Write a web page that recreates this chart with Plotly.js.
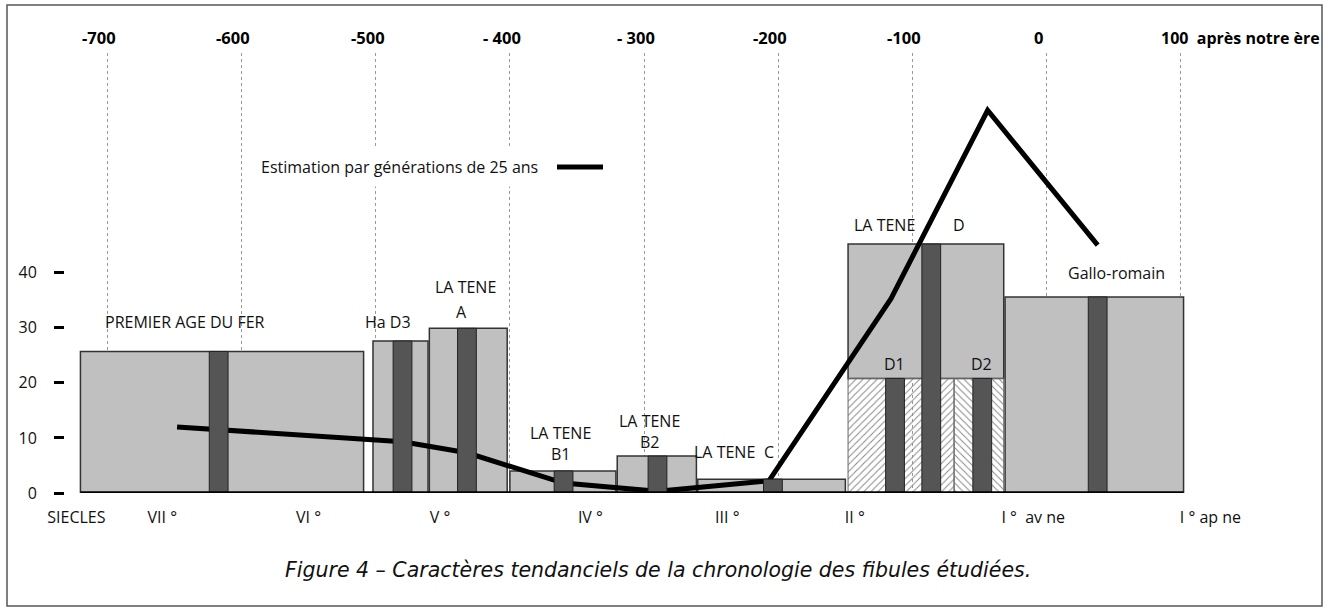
<!DOCTYPE html>
<html><head><meta charset="utf-8">
<script src="https://cdn.plot.ly/plotly-3.0.1.min.js"></script>
<style>html,body{margin:0;padding:0;background:#fff;} #chart{width:1334px;height:610px;}</style>
</head><body><div id="chart"></div>
<script>
// ---------- DATA (years: negative = before our era) ----------
const periodNames = ['PREMIER AGE DU FER','Ha D3','LA TENE A','LA TENE B1','LA TENE B2','LA TENE C','LA TENE D','Gallo-romain'];
const periodStart = [-720, -502, -460, -400, -320, -260, -148, -31];
const periodEnd   = [-509, -461, -402, -321, -261, -150, -32, 102];
const periodValue = [25.7, 27.6, 29.9, 4.0, 6.7, 2.5, 45.2, 35.6];
const periodPeak  = [-617, -480, -432, -360, -290, -204, -86, 38];

const subNames = ['D1','D2'];
const subStart = [-148, -69];
const subEnd   = [-69, -32];
const subValue = [20.8, 20.8];
const subPeak  = [-113, -48];

const estName   = 'Estimation par générations de 25 ans';
const estYears  = [-648, -480, -432, -360, -290, -207, -116, -44, 38];
const estValues = [12.0, 9.3, 7.3, 1.8, 0.3, 2.2, 35.3, 69.5, 45.0];

const topTickVals = [-700, -600, -500, -400, -300, -200, -100, 0, 100];
const topTickText = ['-700', '-600', '-500', '- 400', '- 300', '-200', '-100', '0', '100  après notre ère'];

const centuryPos  = [-723, -659, -550, -452, -340, -238, -143, -10, 122];
const centuryText = ['SIECLES', 'VII °', 'VI °', 'V °', 'IV °', 'III °', 'II °', 'I °  av ne', 'I ° ap ne'];

const yTicks = [0, 10, 20, 30, 40];

// ---------- LAYOUT GEOMETRY ----------
const W = 1334, H = 610;
const M = {l: 65, r: 100, t: 53, b: 117};
const PW = W - M.l - M.r, PH = H - M.t - M.b;
const PX_PER_YEAR = 1.342;
const XR = [-731.5, -731.5 + PW / PX_PER_YEAR];
const YR = [0, 79.9];
const px2x = px => (px - M.l) / PW;
const py2y = py => (M.t + PH - py) / PH;

const FONT = 'Open Sans, sans-serif';
const LIGHT = '#c0c0c0', DARK = '#555555';
const darkWidth = 14;

// bases: the part of a period covered by sub-phases is drawn hatched
const periodBase = periodStart.map((s, i) => {
  let b = 0;
  subStart.forEach((ss, j) => { if (ss >= s && subEnd[j] <= periodEnd[i]) b = Math.max(b, subValue[j]); });
  return b;
});

const lightBars = {
  type: 'bar', xaxis: 'x', yaxis: 'y',
  x: periodStart.map((s, i) => (s + periodEnd[i]) / 2),
  width: periodStart.map((s, i) => periodEnd[i] - s),
  base: periodBase,
  y: periodValue.map((v, i) => v - periodBase[i]),
  text: periodNames, textposition: 'none',
  marker: {color: LIGHT, line: {color: '#333', width: 1.5}},
  hoverinfo: 'skip'
};

const hatchBars = {
  type: 'bar', xaxis: 'x', yaxis: 'y',
  x: subStart.map((s, i) => (s + subEnd[i]) / 2),
  width: subStart.map((s, i) => subEnd[i] - s),
  y: subValue,
  text: subNames, textposition: 'none',
  marker: {
    color: 'rgba(255,255,255,0)',
    line: {color: '#666', width: 1},
    pattern: {shape: ['/', '\\'], fgcolor: '#888', bgcolor: 'rgba(255,255,255,0)', size: 5, solidity: 0.2}
  },
  hoverinfo: 'skip'
};

const estLine = {
  type: 'scatter', mode: 'lines', xaxis: 'x', yaxis: 'y',
  name: estName, x: estYears, y: estValues,
  line: {color: '#000', width: 5},
  hoverinfo: 'skip'
};

const darkBars = {
  type: 'bar', xaxis: 'x2', yaxis: 'y2',
  x: periodPeak.concat(subPeak),
  y: periodValue.concat(subValue),
  width: darkWidth,
  marker: {color: DARK, line: {color: '#222', width: 1}},
  hoverinfo: 'skip'
};

const baseLine = {
  type: 'scatter', mode: 'lines', xaxis: 'x2', yaxis: 'y2',
  x: [Math.min(...periodStart), Math.max(...periodEnd)], y: [0, 0],
  line: {color: '#000', width: 3.5},
  hoverinfo: 'skip'
};

// ---------- ANNOTATIONS ----------
const ann = [];
// top year labels
topTickVals.forEach((v, i) => {
  const last = i === topTickVals.length - 1;
  ann.push({
    x: v, xref: 'x', y: py2y(38), yref: 'paper',
    text: topTickText[i], showarrow: false,
    xanchor: last ? 'left' : 'center', yanchor: 'middle',
    xshift: last ? -22 : -8,
    font: {family: FONT, size: last ? 16 : 16.5, color: '#000', weight: 'bold'}
  });
});
// period labels
const labelFont = {family: FONT, size: 16, color: '#111'};
[
  ['PREMIER AGE DU FER', -642, 31.1],
  ['Ha D3', -491, 31.1],
  ['LA TENE', -433, 37.4], ['A', -436, 32.8],
  ['LA TENE<br>B1', -362.5, 9.0],
  ['LA TENE<br>B2', -296, 11.1],
  ['LA TENE', -240, 7.5], ['C', -207, 7.5],
  ['LA TENE', -121, 48.7], ['D', -65, 48.7],
  ['D1', -113.5, 23.4], ['D2', -48.4, 23.4],
  ['Gallo-romain', 52, 39.9]
].forEach(([t, x, y]) => ann.push({
  x: x, y: y, xref: 'x', yref: 'y', text: t, showarrow: false,
  xanchor: 'center', yanchor: 'middle', font: labelFont
}));
// legend text
ann.push({
  x: px2x(399), y: py2y(167), xref: 'paper', yref: 'paper',
  text: estName, showarrow: false, xanchor: 'center', yanchor: 'middle',
  bgcolor: '#fff', borderpad: 8, font: {family: FONT, size: 16, color: '#111'}
});
// caption
ann.push({
  x: px2x(658), y: py2y(570), xref: 'paper', yref: 'paper',
  text: 'Figure 4 – Caractères tendanciels de la chronologie des fibules étudiées.',
  showarrow: false, xanchor: 'center', yanchor: 'middle',
  font: {family: 'DejaVu Sans, sans-serif', size: 20.5, color: '#111', style: 'italic'}
});

const shapes = [
  {type: 'rect', xref: 'paper', yref: 'paper', x0: px2x(7), x1: px2x(1322), y0: py2y(606), y1: py2y(5),
   line: {color: '#555', width: 1.5}, fillcolor: 'rgba(0,0,0,0)', layer: 'above'},
  {type: 'line', xref: 'paper', yref: 'paper', x0: px2x(557), x1: px2x(603), y0: py2y(167), y1: py2y(167),
   line: {color: '#000', width: 5}, layer: 'above'}
];

const layout = {
  width: W, height: H, margin: M,
  paper_bgcolor: '#fff', plot_bgcolor: '#fff',
  showlegend: false, barmode: 'overlay', hovermode: false,
  xaxis: {range: XR, side: 'top', tickvals: topTickVals, showticklabels: false,
          showgrid: true, gridcolor: '#999', griddash: '3px,3px', gridwidth: 1,
          zeroline: false, showline: false, ticks: '', fixedrange: true},
  xaxis2: {range: XR, overlaying: 'x', anchor: 'y2', side: 'bottom',
           tickvals: centuryPos, ticktext: centuryText, ticks: '', ticklabelstandoff: 13,
           showgrid: false, zeroline: false, showline: false, fixedrange: true,
           tickfont: {family: FONT, size: 16, color: '#111'}},
  yaxis: {range: YR, tickvals: yTicks, ticks: 'outside', ticklen: 10, tickwidth: 3, tickcolor: '#000',
          showgrid: false, zeroline: false, showline: false, ticklabelstandoff: 14, fixedrange: true,
          tickfont: {family: FONT, size: 16, color: '#111'}},
  yaxis2: {range: YR, overlaying: 'y', visible: false, fixedrange: true},
  annotations: ann,
  shapes: shapes
};

Plotly.newPlot('chart', [lightBars, hatchBars, estLine, darkBars, baseLine], layout, {staticPlot: true, displayModeBar: false});
</script>
</body></html>
